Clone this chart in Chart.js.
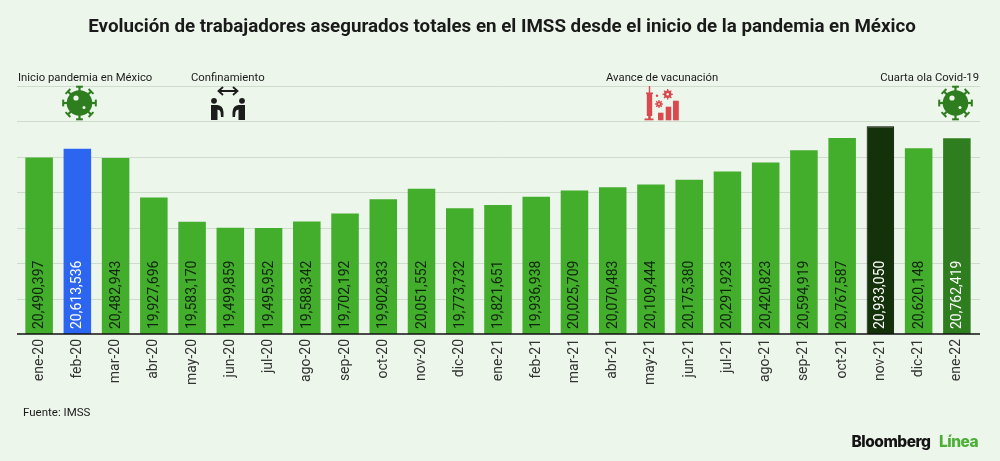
<!DOCTYPE html>
<html lang="es"><head><meta charset="utf-8">
<style>html,body{margin:0;padding:0;background:#edf6eb}canvas{display:block}</style>
<script src="https://cdn.jsdelivr.net/npm/chart.js@4"></script></head>
<body><div style="width:1000px;height:461px"><canvas id="c" width="1000" height="461"></canvas></div>
<script>
const months=["ene-20","feb-20","mar-20","abr-20","may-20","jun-20","jul-20","ago-20","sep-20","oct-20","nov-20","dic-20","ene-21","feb-21","mar-21","abr-21","may-21","jun-21","jul-21","ago-21","sep-21","oct-21","nov-21","dic-21","ene-22"];
const workers=[20490397,20613536,20482943,19927696,19583170,19499859,19495952,19588342,19702192,19902833,20051552,19773732,19821651,19936938,20025709,20070483,20109444,20175380,20291923,20420823,20594919,20767587,20933050,20620148,20762419];
const barColors=months.map((m,i)=>i===1?"#2b65f0":i===22?"#143209":i===24?"#2e7d1e":"#43ad2c");
const labelColors=months.map((m,i)=>(i===1||i===22||i===24)?"#ffffff":"#10240c");
const titleText="Evolución de trabajadores asegurados totales en el IMSS desde el inicio de la pandemia en México";
const notes=[["Inicio pandemia en México",18,"left"],["Confinamiento",191,"left"],["Avance de vacunación",606,"left"],["Cuarta ola Covid-19",979,"right"]];
const GREEN="#2e7d1e",RED="#d9494f",INK="#1c1c1c",BG="#edf6eb";

function virus(ctx,x,y){
  ctx.save();ctx.translate(x,y);ctx.fillStyle=GREEN;ctx.strokeStyle=GREEN;ctx.lineWidth=2.2;
  ctx.beginPath();ctx.arc(0,0,12.8,0,7);ctx.fill();
  for(let k=0;k<8;k++){ctx.save();ctx.rotate(k*Math.PI/4);
    ctx.beginPath();ctx.moveTo(0,-11);ctx.lineTo(0,-16);ctx.stroke();
    ctx.lineWidth=2;ctx.beginPath();ctx.moveTo(-3.4,-16.3);ctx.lineTo(3.4,-16.3);ctx.stroke();ctx.restore();}
  ctx.fillStyle=BG;
  ctx.beginPath();ctx.arc(-3.5,-5,2.6,0,7);ctx.fill();
  ctx.beginPath();ctx.arc(4.5,4.5,1.5,0,7);ctx.fill();
  ctx.restore();
}
function person(ctx,x,flip){
  ctx.save();ctx.translate(x,0);ctx.scale(flip?-1:1,1);ctx.fillStyle=INK;
  ctx.beginPath();ctx.arc(3,100.8,2.9,0,7);ctx.fill();
  ctx.beginPath();ctx.moveTo(0,105);ctx.lineTo(6.5,105);ctx.quadraticCurveTo(12,105.5,12.5,112);ctx.lineTo(12.5,117);ctx.lineTo(10,117);ctx.lineTo(9.5,112);ctx.quadraticCurveTo(9,109.5,6.5,109.5);ctx.lineTo(6.5,120);ctx.lineTo(0,120);ctx.closePath();ctx.fill();
  ctx.restore();
}
function distance(ctx){
  ctx.save();ctx.strokeStyle=INK;ctx.lineWidth=1.8;
  ctx.beginPath();ctx.moveTo(219,91);ctx.lineTo(237,91);
  ctx.moveTo(223,87);ctx.lineTo(218.5,91);ctx.lineTo(223,95);
  ctx.moveTo(233,87);ctx.lineTo(237.5,91);ctx.lineTo(233,95);ctx.stroke();ctx.restore();
  person(ctx,211,false);person(ctx,245,true);
}
function vaccine(ctx){
  ctx.save();ctx.fillStyle=RED;ctx.strokeStyle=RED;
  ctx.fillRect(646.8,94,5.4,22);ctx.fillRect(648.8,86,1.4,8);ctx.fillRect(648.2,116,2.6,3);ctx.fillRect(644.5,118.5,9,1.8);ctx.fillRect(646,92.5,7,1.6);
  ctx.fillRect(658,112.7,5.5,7.6);ctx.fillRect(665.7,106.7,5.6,13.6);ctx.fillRect(673,100.7,5.8,19.6);
  [[667.7,94.3,3.8],[659,104,2.6]].forEach(([x,y,r])=>{
    ctx.beginPath();ctx.arc(x,y,r,0,7);ctx.fill();ctx.lineWidth=1.3;
    for(let k=0;k<8;k++){const a=k*Math.PI/4;ctx.beginPath();ctx.moveTo(x,y);ctx.lineTo(x+Math.cos(a)*(r+1.4),y+Math.sin(a)*(r+1.4));ctx.stroke();}
    ctx.fillStyle=BG;ctx.beginPath();ctx.arc(x,y,r*0.33,0,7);ctx.fill();ctx.fillStyle=RED;});
  ctx.beginPath();ctx.arc(657,95.7,1.2,0,7);ctx.fill();
  ctx.restore();
}
const decor={id:"decor",
  beforeDatasetsDraw(ch){const c=ch.ctx,y=ch.scales.y;c.save();c.strokeStyle="#cfdccd";c.lineWidth=1;
    y.ticks.forEach(t=>{if(t.value===y.min)return;const p=Math.round(y.getPixelForValue(t.value))+.5;c.beginPath();c.moveTo(17,p);c.lineTo(980,p);c.stroke();});c.restore();},
  afterDatasetsDraw(ch){const c=ch.ctx,y=ch.scales.y,x=ch.scales.x;c.save();
    const base=y.getPixelForValue(y.min);c.strokeStyle="#111";c.lineWidth=1.4;c.beginPath();c.moveTo(17,base);c.lineTo(980,base);c.stroke();
    c.font='14px Roboto';c.textAlign="left";c.textBaseline="middle";
    workers.forEach((v,i)=>{c.save();c.translate(x.getPixelForValue(i),base-5);c.rotate(-Math.PI/2);c.fillStyle=labelColors[i];c.fillText(v.toLocaleString("en-US"),0,0.5);c.restore();});
    c.fillStyle="#1a1a1a";c.font='bold 18.75px Roboto';c.textAlign="center";c.textBaseline="alphabetic";c.fillText(titleText,502,31.5);
    c.font='11.3px Roboto';notes.forEach(n=>{c.textAlign=n[2];c.fillText(n[0],n[1],81);});
    c.textAlign="left";c.font='11.5px Roboto';c.fillText("Fuente: IMSS",23,416);
    c.font='800 15.5px Inter';c.letterSpacing="-0.5px";c.fillStyle="#141414";c.fillText("Bloomberg",851.5,446.5);
    c.fillStyle="#4caf35";c.fillText("Línea",939,446.5);c.letterSpacing="0px";
    virus(c,79.5,103);virus(c,955.5,103);distance(c);vaccine(c);
    c.restore();}
};
new Chart(document.getElementById("c"),{
  type:"bar",
  data:{labels:months,datasets:[{data:workers,backgroundColor:barColors,borderColor:barColors.map((b,i)=>i===22?"#000":b),borderWidth:months.map((m,i)=>i===22?1:0),categoryPercentage:0.72,barPercentage:1}]},
  options:{responsive:false,animation:false,devicePixelRatio:1,
    layout:{padding:{left:20,right:24,top:86,bottom:0}},
    plugins:{legend:{display:false},tooltip:{enabled:false},title:{display:false}},
    scales:{
      y:{display:false,min:18000000,max:21500000,ticks:{stepSize:500000}},
      x:{afterFit(s){s.height=127;},grid:{display:false},border:{display:false},
        ticks:{color:"#333",font:{family:"Roboto",size:14},minRotation:90,maxRotation:90,autoSkip:false,padding:-3}}
    }},
  plugins:[decor]
});
</script></body></html>
